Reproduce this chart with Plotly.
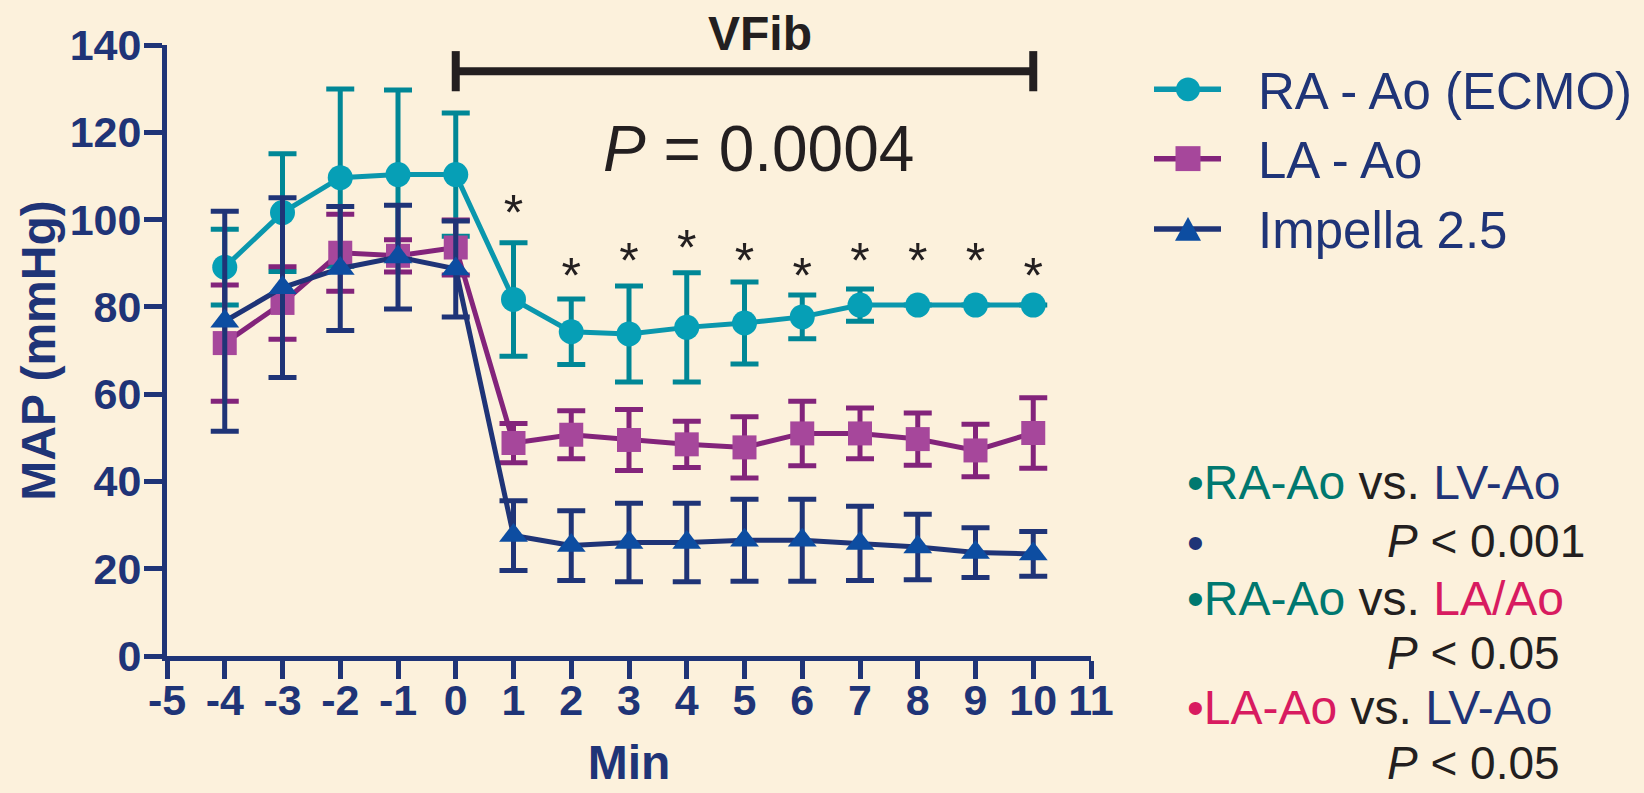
import plotly.graph_objects as go

# ---------------- data ----------------
minutes = [-4, -3, -2, -1, 0, 1, 2, 3, 4, 5, 6, 7, 8, 9, 10]

ra_mean = [89.1, 101.6, 109.6, 110.3, 110.3, 81.7, 74.3, 73.8, 75.3, 76.3, 77.7, 80.4, 80.4, 80.4, 80.4]
ra_err = [8.7, 13.5, 20.3, 19.4, 14.1, 13.0, 7.5, 11.0, 12.5, 9.4, 5.0, 3.7, 0, 0, 0]

la_mean = [71.7, 80.9, 92.4, 91.7, 93.6, 48.8, 50.7, 49.5, 48.5, 47.8, 51.0, 51.0, 49.7, 47.1, 51.1]
la_err = [13.3, 8.3, 8.8, 3.7, 6.3, 4.5, 5.5, 7.0, 5.3, 7.0, 7.4, 5.8, 6.0, 6.0, 8.1]

imp_mean = [76.7, 84.4, 88.8, 91.4, 88.7, 27.6, 25.3, 26.0, 26.0, 26.5, 26.5, 25.8, 25.0, 23.7, 23.4]
imp_err = [25.2, 20.6, 14.2, 11.9, 11.0, 8.0, 8.0, 9.0, 9.0, 9.4, 9.4, 8.5, 7.5, 5.7, 5.1]

sig_x = [1, 2, 3, 4, 5, 6, 7, 8, 9, 10]
sig_y = [100.5, 86.0, 89.5, 92.5, 89.5, 86.0, 89.5, 89.5, 89.5, 86.0]

series_names = ["RA - Ao (ECMO)", "LA - Ao", "Impella 2.5"]
x_ticks = list(range(-5, 12))
y_ticks = list(range(0, 141, 20))
vfib_span = [0, 10]
vfib_level = 134

stats_lines = [
    ("RA-Ao", "LV-Ao", "P < 0.001"),
    ("RA-Ao", "LA/Ao", "P < 0.05"),
    ("LA-Ao", "LV-Ao", "P < 0.05"),
]

# ---------------- styling ----------------
W, H = 1644, 793
L, R, T, B = 167, 553, 45, 135
PW, PH = W - L - R, H - T - B

FONT = "Liberation Sans, Arial, sans-serif"
NAVY = "#1f3477"
BG = "#fcf1dc"
TEAL_M, TEAL_L, TEAL_E = "#069fb6", "#0a97ad", "#008796"
PURP_M, PURP_L = "#a6479b", "#83247b"
BLUE_M = "#0d4da1"
INK = "#231f20"
GREEN_T = "#00786f"
CRIMSON = "#d81b60"


def px(xp):
    return (xp - L) / PW


def py(yp):
    return 1 - (yp - T) / PH


fig = go.Figure()

specs = [
    (series_names[0], ra_mean, ra_err, TEAL_M, TEAL_L, TEAL_E, "circle", 25),
    (series_names[1], la_mean, la_err, PURP_M, PURP_L, PURP_L, "square", 24),
    (series_names[2], imp_mean, imp_err, BLUE_M, NAVY, NAVY, "triangle-up", 25),
]
for name, m, e, mc, lc, ec, sym, sz in specs:
    fig.add_trace(go.Scatter(
        x=minutes, y=m, name=name, mode="lines+markers",
        line=dict(color=lc, width=5),
        marker=dict(symbol=sym, size=sz, color=mc, line=dict(width=0)),
        error_y=dict(type="data", array=e, visible=True, color=ec, thickness=5, width=14),
        showlegend=False, cliponaxis=False,
    ))

fig.add_trace(go.Scatter(
    x=sig_x, y=sig_y, mode="text", text=["*"] * len(sig_x),
    textfont=dict(family=FONT, size=50, color=INK),
    textposition="middle center", showlegend=False, cliponaxis=False,
))

axis_common = dict(
    showgrid=False, zeroline=False, showline=True, linecolor=NAVY, linewidth=5,
    ticks="outside", ticklen=18, tickwidth=5, tickcolor=NAVY,
)

fig.update_xaxes(range=[-5, 11], tickmode="array", tickvals=x_ticks,
                 ticktext=[str(v) for v in x_ticks],
                 tickfont=dict(family=FONT, size=43, color=NAVY, weight="bold"),
                 ticklabelstandoff=-16,
                 title=dict(text="<b>Min</b>", font=dict(family=FONT, size=48, color=NAVY), standoff=24),
                 **axis_common)
fig.update_yaxes(range=[0, 140], tickmode="array", tickvals=y_ticks,
                 ticktext=[str(v) for v in y_ticks],
                 tickfont=dict(family=FONT, size=43, color=NAVY, weight="bold"),
                 ticklabelstandoff=-6,
                 title=dict(text="<b>MAP (mmHg)</b>", font=dict(family=FONT, size=48, color=NAVY), standoff=0),
                 **axis_common)

shapes = []
# VFib bracket
shapes.append(dict(type="line", xref="x", yref="y", x0=vfib_span[0], x1=vfib_span[1],
                   y0=vfib_level, y1=vfib_level, line=dict(color=INK, width=8)))
for xv in vfib_span:
    shapes.append(dict(type="line", xref="x", yref="y", x0=xv, x1=xv,
                       y0=vfib_level - 4.6, y1=vfib_level + 4.6, line=dict(color=INK, width=8)))

annotations = []
annotations.append(dict(xref="x", yref="paper", x=5.27, y=py(33), text="<b>VFib</b>",
                        showarrow=False, font=dict(family=FONT, size=48, color=INK),
                        xanchor="center", yanchor="middle"))
annotations.append(dict(xref="x", yref="paper", x=5.24, y=py(149), text="<i>P</i> = 0.0004",
                        showarrow=False, font=dict(family=FONT, size=64, color=INK),
                        xanchor="center", yanchor="middle"))

# manual legend
leg_rows = [89.5, 159, 229.5]
leg_cols = [(TEAL_L, TEAL_M, "circle"), (PURP_L, PURP_M, "square"), (NAVY, BLUE_M, "triangle")]
for yrow, (lc, mc, kind), name in zip(leg_rows, leg_cols, series_names):
    shapes.append(dict(type="line", xref="paper", yref="paper", x0=px(1154), x1=px(1221),
                       y0=py(yrow), y1=py(yrow), line=dict(color=lc, width=5.5)))
    cx = 1188
    if kind == "circle":
        shapes.append(dict(type="circle", xref="paper", yref="paper", x0=px(cx - 12), x1=px(cx + 12),
                           y0=py(yrow + 12), y1=py(yrow - 12), fillcolor=mc, line=dict(width=0)))
    elif kind == "square":
        shapes.append(dict(type="rect", xref="paper", yref="paper", x0=px(cx - 12.5), x1=px(cx + 12.5),
                           y0=py(yrow + 12.5), y1=py(yrow - 12.5), fillcolor=mc, line=dict(width=0)))
    else:
        path = "M {:.5f},{:.5f} L {:.5f},{:.5f} L {:.5f},{:.5f} Z".format(
            px(cx - 13), py(yrow + 12), px(cx + 13), py(yrow + 12), px(cx), py(yrow - 12))
        shapes.append(dict(type="path", xref="paper", yref="paper", path=path,
                           fillcolor=mc, line=dict(width=0)))
    annotations.append(dict(xref="paper", yref="paper", x=px(1256), y=py(yrow + 2), text=name,
                            showarrow=False, font=dict(family=FONT, size=51, color=NAVY),
                            xanchor="left", yanchor="middle"))


# statistics text block
def span(t, c):
    return '<span style="color:{}">{}</span>'.format(c, t)


color_of = {"RA-Ao": GREEN_T, "LV-Ao": NAVY, "LA/Ao": CRIMSON, "LA-Ao": CRIMSON}
row_y = [(484, 543), (600, 655), (710, None)]
for (a, b, p), (y1, y2) in zip(stats_lines, row_y):
    txt = span("•" + a, color_of[a]) + span(" vs. ", INK) + span(b, color_of[b])
    annotations.append(dict(xref="paper", yref="paper", x=px(1185), y=py(y1), text=txt,
                            showarrow=False, font=dict(family=FONT, size=48, color=INK),
                            xanchor="left", yanchor="middle"))
    ptxt = "<i>P</i>" + p[1:]
    if y2 is None:
        pos = dict(y=py(793), yanchor="bottom")
    else:
        pos = dict(y=py(y2), yanchor="middle")
    annotations.append(dict(xref="paper", yref="paper", x=px(1385), text=ptxt,
                            showarrow=False, font=dict(family=FONT, size=46, color=INK),
                            xanchor="left", **pos))
# lone navy bullet on second line
annotations.append(dict(xref="paper", yref="paper", x=px(1185), y=py(544), text="•",
                        showarrow=False, font=dict(family=FONT, size=48, color=NAVY),
                        xanchor="left", yanchor="middle"))

fig.update_layout(
    width=W, height=H, margin=dict(l=L, r=R, t=T, b=B, pad=0),
    paper_bgcolor=BG, plot_bgcolor=BG,
    shapes=shapes, annotations=annotations, showlegend=False,
    font=dict(family=FONT, color=NAVY),
)

fig.write_html(
    "out.html",
    config={"displayModeBar": False},
    post_script="document.body.style.margin='0';document.body.style.background='" + BG + "';",
)
